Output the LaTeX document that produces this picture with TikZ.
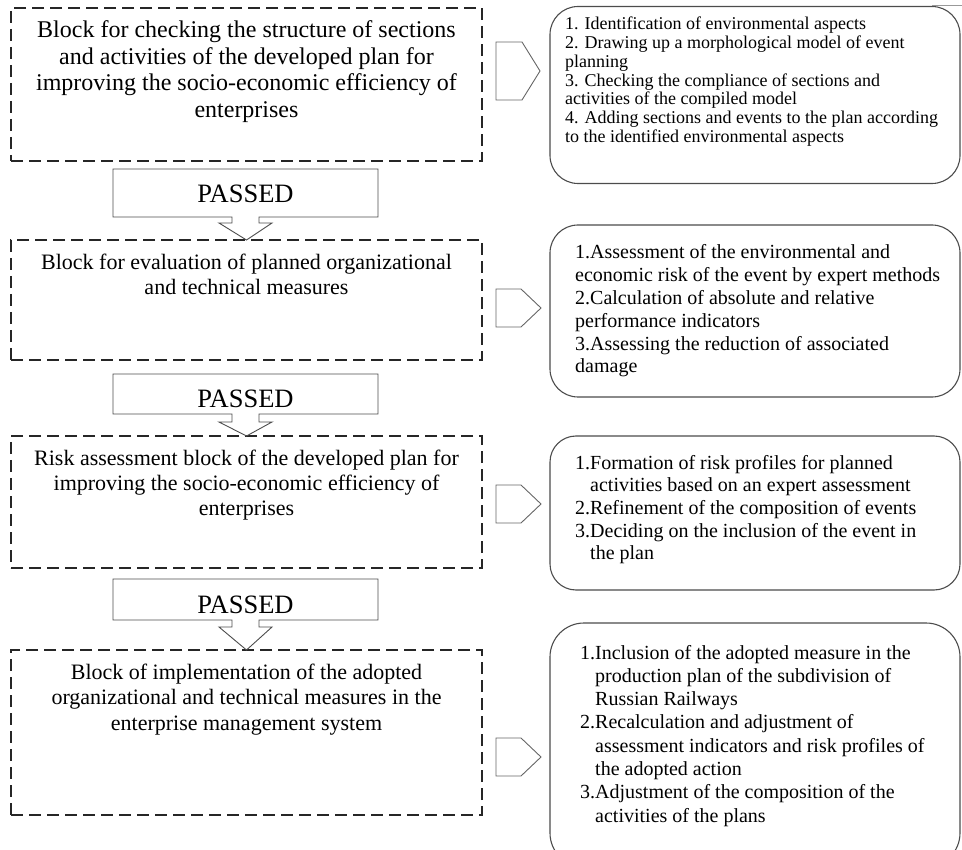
\documentclass[tikz,border=0pt]{standalone}
\usepackage{fontspec}
\setmainfont{Liberation Serif}
\begin{document}
\begin{tikzpicture}[x=1pt,y=-1pt,
  leftbox/.style={draw=black!85, line width=1.4pt, dash pattern=on 12pt off 6pt, inner sep=0pt, outer sep=0pt, rectangle},
  rightbox/.style={draw=black!70, line width=1.1pt, rounded corners=#1, inner sep=0pt, outer sep=0pt, rectangle},
  rightbox/.default=28pt,
  blockarrow/.style={draw=black!70, line width=0.9pt, line join=miter},
  pointer/.style={draw=black!60, line width=0.9pt},
  ctext/.style={anchor=base, inner sep=0pt},
  ltext/.style={anchor=base west, inner sep=0pt},
  passtext/.style={anchor=base, inner sep=0pt, font=\fontsize{26.5}{30}\selectfont}
]
\useasboundingbox (0,0) rectangle (962,850);

% ---------- left dashed blocks ----------
\node[leftbox, minimum width=471pt, minimum height=153pt] (L1) at (246.5,84.5) {};
\node[leftbox, minimum width=471pt, minimum height=120pt] (L2) at (246.5,300) {};
\node[leftbox, minimum width=471pt, minimum height=132pt] (L3) at (246.5,502) {};
\node[leftbox, minimum width=471pt, minimum height=165pt] (L4) at (246.5,732.5) {};

\node[ctext, font=\fontsize{24}{26.7}\selectfont] (L1t) at (246.5,37.5) {\begin{tabular}[t]{@{}c@{}}Block for checking the structure of sections\\ and activities of the developed plan for\\ improving the socio-economic efficiency of\\ enterprises\end{tabular}};
\node[ctext, font=\fontsize{22}{25}\selectfont] (L2t) at (246.5,270) {\begin{tabular}[t]{@{}c@{}}Block for evaluation of planned organizational\\ and technical measures\end{tabular}};
\node[ctext, font=\fontsize{22}{25.5}\selectfont] (L3t) at (246.5,465) {\begin{tabular}[t]{@{}c@{}}Risk assessment block of the developed plan for\\ improving the socio-economic efficiency of\\ enterprises\end{tabular}};
\node[ctext, font=\fontsize{22}{25.5}\selectfont] (L4t) at (246.5,679) {\begin{tabular}[t]{@{}c@{}}Block of implementation of the adopted\\ organizational and technical measures in the\\ enterprise management system\end{tabular}};

% ---------- PASSED block arrows ----------
\draw[blockarrow] (113,169) -- (378,169) -- (378,217) -- (259,217) -- (259,223) -- (272,223) -- (L2.north) -- (219,223) -- (232,223) -- (232,217) -- (113,217) -- cycle;
\node[passtext] (P1) at (245.5,203) {PASSED};
\draw[blockarrow] (113,374) -- (378,374) -- (378,414) -- (259,414) -- (259,422) -- (272,422) -- (L3.north) -- (219,422) -- (232,422) -- (232,414) -- (113,414) -- cycle;
\node[passtext] (P2) at (245.5,408) {PASSED};
\draw[blockarrow] (113,579) -- (378,579) -- (378,620) -- (259,620) -- (259,627) -- (272,627) -- (L4.north) -- (219,627) -- (232,627) -- (232,620) -- (113,620) -- cycle;
\node[passtext] (P3) at (245.5,613) {PASSED};

% ---------- right rounded blocks ----------
\node[rightbox, minimum width=410pt, minimum height=177pt] (R1) at (755,95) {};
\node[rightbox, minimum width=410pt, minimum height=172pt] (R2) at (755,311) {};
\node[rightbox=26pt, minimum width=410pt, minimum height=154pt] (R3) at (755,513) {};
\node[rightbox=34pt, minimum width=410pt, minimum height=244pt] (R4) at (755,745) {};

\node[ltext, font=\fontsize{18}{18.7}\selectfont] (R1t) at (565,30) {\begin{tabular}[t]{@{}l@{}}1. Identification of environmental aspects\\ 2. Drawing up a morphological model of event\\ planning\\ 3. Checking the compliance of sections and\\ activities of the compiled model\\ 4. Adding sections and events to the plan according\\ to the identified environmental aspects\end{tabular}};
\node[ltext, font=\fontsize{20}{22.8}\selectfont] (R2t) at (575,259) {\begin{tabular}[t]{@{}l@{}}1.Assessment of the environmental and\\ economic risk of the event by expert methods\\ 2.Calculation of absolute and relative\\ performance indicators\\ 3.Assessing the reduction of associated\\ damage\end{tabular}};
\node[ltext, font=\fontsize{20}{22.7}\selectfont] (R3t) at (575,469) {\begin{tabular}[t]{@{}l@{}}1.Formation of risk profiles for planned\\ \phantom{1.}activities based on an expert assessment\\ 2.Refinement of the composition of events\\ 3.Deciding on the inclusion of the event in\\ \phantom{1.}the plan\end{tabular}};
\node[ltext, font=\fontsize{20}{23.3}\selectfont] (R4t) at (580,659) {\begin{tabular}[t]{@{}l@{}}1.Inclusion of the adopted measure in the\\ \phantom{1.}production plan of the subdivision of\\ \phantom{1.}Russian Railways\\ 2.Recalculation and adjustment of\\ \phantom{1.}assessment indicators and risk profiles of\\ \phantom{1.}the adopted action\\ 3.Adjustment of the composition of the\\ \phantom{1.}activities of the plans\end{tabular}};

% ---------- pointers from left blocks to right blocks ----------
\draw[pointer] (496,42) -- (522,42) -- (540,71) -- (522,100) -- (496,100) -- cycle;
\draw[pointer] (496,289) -- (521,289) -- (541,308) -- (521,327) -- (496,327) -- cycle;
\draw[pointer] (496,485) -- (521,485) -- (541,504) -- (521,523) -- (496,523) -- cycle;
\draw[pointer] (496,738) -- (521,738) -- (541,757) -- (521,776) -- (496,776) -- cycle;

% stray frame fragment at top right
\draw[black!40, line width=0.8pt] (932,5) -- (962,5);
\end{tikzpicture}
\end{document}
